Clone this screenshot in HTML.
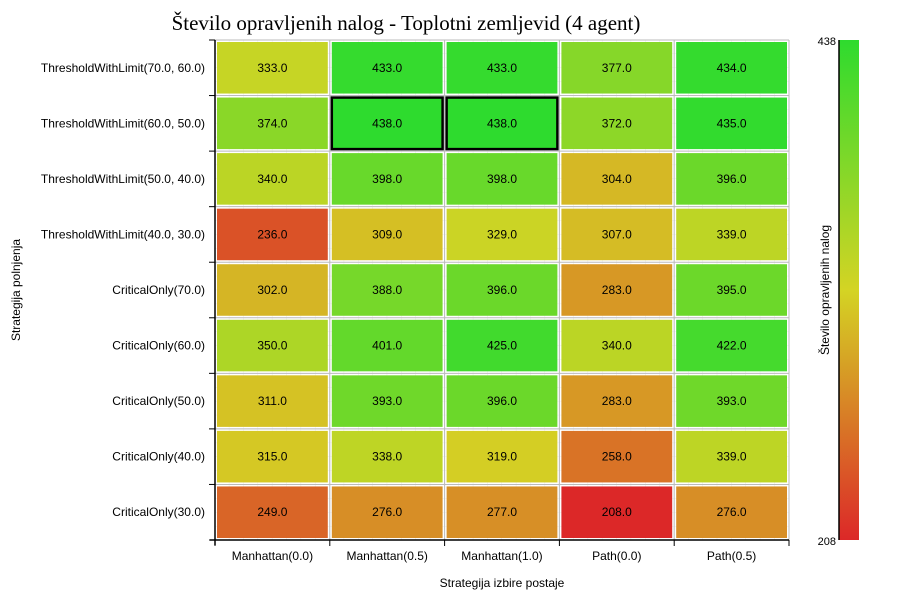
<!DOCTYPE html>
<html><head><meta charset="utf-8"><style>
body{margin:0;background:#fff;width:900px;height:600px;overflow:hidden}
svg text{font-family:"Liberation Sans",sans-serif;font-size:12px;fill:#000}
</style></head><body>
<svg id="chart" width="900" height="600">
<defs>
<linearGradient id="cg" x1="0" y1="1" x2="0" y2="0">
<stop offset="0" stop-color="#dc2828"/><stop offset="0.5" stop-color="#d4d424"/><stop offset="1" stop-color="#2edb2e"/>
</linearGradient>
<pattern id="minor" width="14.35" height="13.9" patternUnits="userSpaceOnUse" x="215" y="40">
<path d="M14.35 0V13.9M0 13.9H14.35" stroke="#ddd" stroke-width="0.6" fill="none"/>
</pattern>
</defs>
<text x="406" y="30" text-anchor="middle" style="font-family:'Liberation Serif',serif;font-size:21px">Število opravljenih nalog - Toplotni zemljevid (4 agent)</text>
<g id="plot"></g>
<rect x="839" y="40" width="20" height="500" fill="url(#cg)"/>
<line x1="839" y1="40" x2="839" y2="540" stroke="#000" stroke-width="1.5"/>
<text x="836" y="45" text-anchor="end" style="font-size:11px">438</text>
<text x="836" y="545" text-anchor="end" style="font-size:11px">208</text>
<text transform="translate(829,290) rotate(-90)" text-anchor="middle">Število opravljenih nalog</text>
<text x="502" y="587" text-anchor="middle">Strategija izbire postaje</text>
<text transform="translate(20,290) rotate(-90)" text-anchor="middle">Strategija polnjenja</text>
</svg>
<script>
const columns=["Manhattan(0.0)","Manhattan(0.5)","Manhattan(1.0)","Path(0.0)","Path(0.5)"];
const rows=["ThresholdWithLimit(70.0, 60.0)","ThresholdWithLimit(60.0, 50.0)","ThresholdWithLimit(50.0, 40.0)","ThresholdWithLimit(40.0, 30.0)","CriticalOnly(70.0)","CriticalOnly(60.0)","CriticalOnly(50.0)","CriticalOnly(40.0)","CriticalOnly(30.0)"];
const values=[
[333,433,433,377,434],
[374,438,438,372,435],
[340,398,398,304,396],
[236,309,329,307,339],
[302,388,396,283,395],
[350,401,425,340,422],
[311,393,396,283,393],
[315,338,319,258,339],
[249,276,277,208,276]];
const vmin=208, vmax=438;
const X0=215,X1=789,Y0=40,Y1=540;
const cw=(X1-X0)/columns.length, rh=(Y1-Y0)/rows.length;
const xPos=i=>X0+i*cw, yPos=j=>Y0+j*rh;
function color(v){
 let t=(v-vmin)/(vmax-vmin);
 const a=[220,40,40],b=[212,212,36],c=[46,219,46];
 let p,q,s; if(t<0.5){p=a;q=b;s=t*2}else{p=b;q=c;s=(t-0.5)*2}
 return `rgb(${p.map((x,k)=>Math.round(x+(q[k]-x)*s)).join(',')})`;
}
const NS="http://www.w3.org/2000/svg";
const g=document.getElementById('plot');
function mk(tag,attrs){const e=document.createElementNS(NS,tag);for(const k in attrs)e.setAttribute(k,attrs[k]);g.appendChild(e);return e;}
const bg=mk('rect',{x:X0,y:Y0,width:X1-X0,height:Y1-Y0,fill:'url(#minor)'});


for(let i=0;i<=columns.length;i++){mk('line',{x1:xPos(i),y1:Y0,x2:xPos(i),y2:Y1,stroke:'#bbb','stroke-width':1});}
for(let j=0;j<=rows.length;j++){mk('line',{x1:X0,y1:yPos(j),x2:X1,y2:yPos(j),stroke:'#bbb','stroke-width':1});}
const maxV=Math.max(...values.flat());
values.forEach((row,j)=>row.forEach((v,i)=>{
 const isMax=v===maxV;
 const r=mk('rect',{x:xPos(i)+2,y:yPos(j)+2,width:cw-4,height:rh-4,fill:color(v),stroke:isMax?'#000':'none','stroke-width':isMax?2.5:0});
 
 
 const t=mk('text',{x:xPos(i)+cw/2,y:yPos(j)+rh/2+4,'text-anchor':'middle'});
 t.textContent=v.toFixed(1);
 
 
}));
mk('line',{x1:X0,y1:Y0,x2:X0,y2:Y1+5,stroke:'#000','stroke-width':1.5});
mk('line',{x1:X0-5,y1:Y1,x2:X1,y2:Y1,stroke:'#000','stroke-width':1.5});
for(let i=0;i<=columns.length;i++)mk('line',{x1:xPos(i),y1:Y1,x2:xPos(i),y2:Y1+6,stroke:'#000'});
for(let j=0;j<=rows.length;j++)mk('line',{x1:X0-6,y1:yPos(j),x2:X0,y2:yPos(j),stroke:'#000'});
columns.forEach((c,i)=>{const t=mk('text',{x:xPos(i)+cw/2,y:Y1+20,'text-anchor':'middle'});t.textContent=c;
 
 });
rows.forEach((r,j)=>{const t=mk('text',{x:X0-10,y:yPos(j)+rh/2+4,'text-anchor':'end'});t.textContent=r;
 
 });
</script>
</body></html>
